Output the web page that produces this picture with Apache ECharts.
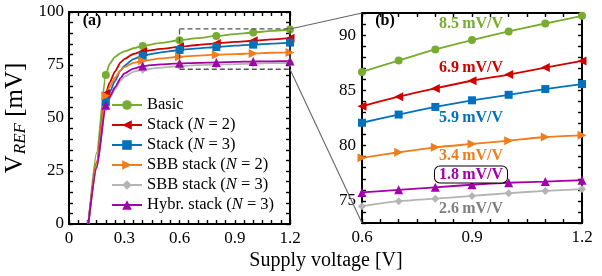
<!DOCTYPE html>
<html>
<head>
<meta charset="utf-8">
<script src="https://cdn.jsdelivr.net/npm/echarts@6/dist/echarts.min.js"></script>
<style>
  html, body { margin: 0; padding: 0; background: #fff; }
  #chart { width: 602px; height: 276px; }
</style>
</head>
<body>
<div id="chart"></div>
<script>
// series names, in legend order
const seriesNames = ['Basic', 'Stack (N=2)', 'Stack (N=3)', 'SBB stack (N=2)', 'SBB stack (N=3)', 'Hybr. stack (N=3)']

// supply voltage points of the start-up part (panel a only)
const kneeV = [0.105, 0.15, 0.2, 0.22, 0.25, 0.28, 0.3, 0.35, 0.4, 0.5]
const kneeBasic = [0, 33.5, 70.3, 75.5, 78.8, 80.6, 81.4, 82.9, 84.0, 85.4]
const kneeStack2 = [0, 29.2, 61.6, 66.5, 72, 76.2, 77.8, 80.2, 81.4, 82.6]
const kneeStack3 = [0, 27.2, 57.5, 62, 67.5, 72.5, 74.6, 77.8, 79.4, 81.0]
const kneeSbb2 = [0, 28.7, 60.5, 64.5, 69, 72.5, 74, 76, 77.0, 78.1]
const kneeSbb3 = [0, 26, 55, 59, 63.5, 67.5, 69.5, 71.8, 72.8, 73.8]
const kneeHybr = [0, 26.5, 56, 60, 64.5, 68.8, 71, 73.3, 74.5, 75.3]

// supply voltage points of the zoomed part (panel b, and tail of panel a)
const zoomV = [0.6, 0.7, 0.8, 0.9, 1.0, 1.1, 1.2]
const zoomBasic = [86.67, 87.7, 88.7, 89.55, 90.33, 91.05, 91.74]
const zoomStack2 = [83.56, 84.43, 85.18, 85.87, 86.43, 87.06, 87.66]
const zoomStack3 = [82.07, 82.81, 83.5, 84.1, 84.6, 85.12, 85.57]
const zoomSbb2 = [78.9, 79.4, 79.85, 80.15, 80.45, 80.78, 80.93]
const zoomSbb3 = [74.52, 74.97, 75.2, 75.45, 75.7, 75.9, 76.07]
const zoomHybr = [75.77, 76.0, 76.23, 76.46, 76.64, 76.75, 76.87]

// where panel (a) shows markers
const markAt = [0.2, 0.4, 0.6, 0.8, 1.0, 1.2]

// line sensitivity labels of panel (b)
const slopeLabels = ['8.5\u2009mV/V', '6.9\u2009mV/V', '5.9\u2009mV/V', '3.4\u2009mV/V', '2.6\u2009mV/V', '1.8\u2009mV/V']

// zoom window
const zoomMin = 73
const zoomMax = 92

const kneeData = [kneeBasic, kneeStack2, kneeStack3, kneeSbb2, kneeSbb3, kneeHybr]
const zoomData = [zoomBasic, zoomStack2, zoomStack3, zoomSbb2, zoomSbb3, zoomHybr]
const colors = ['#77ac30', '#d10000', '#0072bd', '#f07d1a', '#b4b4b4', '#a200a8']
const symbols = ['circle', 'triangle', 'rect', 'triangle', 'diamond', 'triangle']
const rotates = [0, 90, 0, -90, 0, 0]
const sizes = [8, 9, 8, 9, 8, 9]
const serif = 'Liberation Serif'

let chart = echarts.init(document.getElementById('chart'))

const fmt1 = v => v === 0 ? '0' : v.toFixed(1)
const tickStyle = {color: '#000', width: 1.4}

function axis(extra) {
    return Object.assign({
        type: 'value',
        axisLine: {onZero: false, lineStyle: {color: '#000', width: 2}},
        axisTick: {inside: true, length: 4, lineStyle: tickStyle},
        splitLine: {show: false},
        minorSplitLine: {show: false},
        axisLabel: {color: '#000', fontFamily: serif, fontSize: 17, margin: 5}
    }, extra)
}
const noLabel = {show: false}
const minor = n => ({show: true, splitNumber: n, length: 4, lineStyle: tickStyle})

let series = []
seriesNames.forEach((name, i) => {
    const xs = kneeV.concat(zoomV)
    const ys = kneeData[i].concat(zoomData[i])
    series.push({
        type: 'line', name, xAxisIndex: 0, yAxisIndex: 0,
        data: xs.map((x, k) => markAt.some(m => Math.abs(m - x) < 1e-6)
            ? {value: [x, ys[k]]}
            : {value: [x, ys[k]], symbol: 'none'}),
        symbol: symbols[i], symbolRotate: rotates[i], symbolSize: sizes[i],
        smooth: 0.2, smoothMonotone: 'x',
        lineStyle: {color: colors[i], width: 1.8},
        itemStyle: {color: colors[i]},
        animation: false
    })
    series.push({
        type: 'line', name, xAxisIndex: 2, yAxisIndex: 2,
        data: zoomV.map((x, k) => [x, zoomData[i][k]]),
        symbol: symbols[i], symbolRotate: rotates[i], symbolSize: sizes[i],
        smooth: 0.2,
        lineStyle: {color: colors[i], width: 1.8},
        itemStyle: {color: colors[i]},
        animation: false
    })
})

let option = {
    animation: false,
    grid: [
        {left: 69, top: 12, width: 221, height: 212},
        {left: 362, top: 13, width: 220, height: 210}
    ],
    xAxis: [
        axis({gridIndex: 0, position: 'bottom', min: 0, max: 1.2, interval: 0.3, minorTick: minor(6),
            axisLabel: {color: '#000', fontFamily: serif, fontSize: 17, margin: 6, formatter: fmt1}}),
        axis({gridIndex: 0, position: 'top', min: 0, max: 1.2, interval: 0.3, minorTick: minor(6), axisLabel: noLabel}),
        axis({gridIndex: 1, position: 'bottom', min: 0.6, max: 1.2, interval: 0.3, minorTick: minor(6),
            axisLabel: {color: '#000', fontFamily: serif, fontSize: 17, margin: 6, formatter: fmt1}}),
        axis({gridIndex: 1, position: 'top', min: 0.6, max: 1.2, interval: 0.3, minorTick: minor(6), axisLabel: noLabel})
    ],
    yAxis: [
        axis({gridIndex: 0, position: 'left', min: 0, max: 100, interval: 25, minorTick: minor(5),
            name: '{v|V}{s|REF}{t| [mV]}', nameLocation: 'middle', nameRotate: 90, nameGap: 40,
            nameTextStyle: {color: '#000', fontFamily: serif, fontSize: 25, rich: {
                v: {fontFamily: serif, fontSize: 25, color: '#000'},
                s: {fontFamily: serif, fontSize: 17, fontStyle: 'italic', color: '#000', padding: [11, 0, 0, 1]},
                t: {fontFamily: serif, fontSize: 25, color: '#000'}
            }}}),
        axis({gridIndex: 0, position: 'right', min: 0, max: 100, interval: 25, minorTick: minor(5), axisLabel: noLabel}),
        axis({gridIndex: 1, position: 'left', min: zoomMin, max: zoomMax, interval: 1, minorTick: {show: false},
            axisLabel: {color: '#000', fontFamily: serif, fontSize: 17, margin: 6, formatter: v => v % 5 === 0 ? String(v) : ''}}),
        axis({gridIndex: 1, position: 'right', min: zoomMin, max: zoomMax, interval: 1, minorTick: {show: false}, axisLabel: noLabel})
    ],
    legend: {
        data: seriesNames, orient: 'vertical', left: 106, top: 91,
        itemWidth: 30, itemHeight: 12, itemGap: 2,
        textStyle: {fontFamily: serif, fontSize: 16.5, color: '#000', lineHeight: 18,
            rich: {i: {fontFamily: serif, fontSize: 16.5, fontStyle: 'italic', color: '#000', lineHeight: 18}}},
        formatter: n => n.replace('N=', '{i|N} = ')
    },
    series
}

chart.setOption(option)

// zoom window, connector lines and texts
const p = (g, pt) => chart.convertToPixel({gridIndex: g}, pt)
const tl = p(0, [0.6, zoomMax]), br = p(0, [1.2, zoomMin])
const aTop = p(0, [1.2, zoomMax]), aBot = p(0, [1.2, zoomMin])
const bTop = p(1, [0.6, zoomMax]), bBot = p(1, [0.6, zoomMin])

const labelFont = 'bold 16px "Liberation Serif"'
const labelY = [24, 68, 118, 156, 209, 174.5]
let graphic = [
    {type: 'rect', shape: {x: tl[0], y: tl[1], width: br[0] - tl[0], height: br[1] - tl[1]},
        style: {fill: 'none', stroke: '#555', lineWidth: 1.3, lineDash: [5, 3]}, z: 5},
    {type: 'line', shape: {x1: aTop[0], y1: aTop[1], x2: bTop[0], y2: bTop[1]}, style: {stroke: '#666', lineWidth: 1.1}, z: 5},
    {type: 'line', shape: {x1: aBot[0], y1: aBot[1], x2: bBot[0], y2: bBot[1]}, style: {stroke: '#666', lineWidth: 1.1}, z: 5},
    {type: 'text', x: 326, y: 261, style: {text: 'Supply voltage [V]', font: '20px "Liberation Serif"', fill: '#000', align: 'center', verticalAlign: 'middle'}},
    {type: 'text', x: 92, y: 21, style: {text: '(a)', font: 'bold 16px "Liberation Serif"', fill: '#000', align: 'center', verticalAlign: 'middle'}},
    {type: 'text', x: 385, y: 21, style: {text: '(b)', font: 'bold 16px "Liberation Serif"', fill: '#000', align: 'center', verticalAlign: 'middle'}}
]
const labelColors = ['#77ac30', '#d10000', '#0072bd', '#f07d1a', '#7f7f7f', '#a200a8']
slopeLabels.forEach((t, i) => {
    let st = {text: t, font: labelFont, fill: labelColors[i], align: 'center', verticalAlign: 'middle'}
    if (i === 5) {
        Object.assign(st, {borderColor: '#000', borderWidth: 1, borderRadius: 5, padding: [0, 4, 0, 4], backgroundColor: '#fff'})
    }
    graphic.push({type: 'text', x: 471, y: labelY[i], style: st, z: 6})
})
chart.setOption({graphic})
</script>
</body>
</html>
